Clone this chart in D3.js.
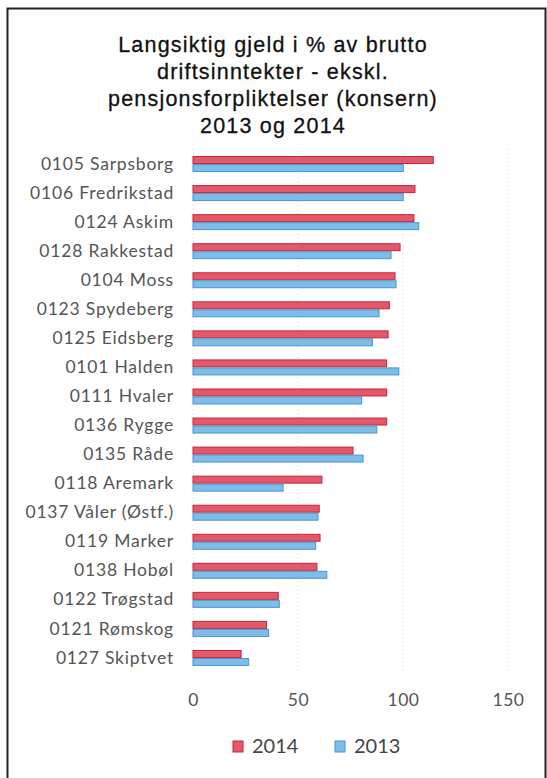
<!DOCTYPE html>
<html>
<head>
<meta charset="utf-8">
<script src="https://cdn.jsdelivr.net/npm/d3@7"></script>
<style>
  body { margin: 0; background: #fff; }
  svg { display: block; }
</style>
</head>
<body>
<div id="chart"></div>
<script>
const kommuner = ["0105 Sarpsborg", "0106 Fredrikstad", "0124 Askim", "0128 Rakkestad", "0104 Moss",
  "0123 Spydeberg", "0125 Eidsberg", "0101 Halden", "0111 Hvaler", "0136 Rygge", "0135 Råde",
  "0118 Aremark", "0137 Våler (Østf.)", "0119 Marker", "0138 Hobøl", "0122 Trøgstad",
  "0121 Rømskog", "0127 Skiptvet"];
const v2014 = [114.4, 105.7, 105.2, 98.6, 96.2, 93.5, 92.9, 92.2, 92.2, 92.2, 76.2, 61.4, 60.1, 60.5, 59.0, 40.6, 35.0, 22.9];
const v2013 = [100.1, 100.1, 107.5, 94.3, 96.7, 88.6, 85.4, 98.0, 80.3, 87.5, 81.0, 42.9, 59.5, 58.4, 63.7, 41.1, 36.0, 26.5];
const series = ["2014", "2013"];
const ticks = [0, 50, 100, 150];
const titleLines = ["Langsiktig gjeld i % av brutto", "driftsinntekter - ekskl.",
  "pensjonsforpliktelser (konsern)", "2013 og 2014"];

let width = 547,
    height = 778;

let svg = d3.select("#chart").append("svg")
  .attr("width", width)
  .attr("height", height);

// frame
svg.append("rect")
  .attr("x", 7.5).attr("y", 8.5)
  .attr("width", 538).attr("height", 800)
  .attr("fill", "none")
  .attr("stroke", "#222")
  .attr("stroke-width", 2);

svg.append("text")
  .attr("text-anchor", "middle")
  .attr("font-family", "Liberation Sans, Arial, sans-serif")
  .attr("font-size", 21.5)
  .attr("letter-spacing", 1.2)
  .attr("fill", "#111")
  .attr("stroke", "#111")
  .attr("stroke-width", 0.3)
  .selectAll("tspan")
  .data(titleLines)
  .enter().append("tspan")
    .attr("x", 273)
    .attr("y", (d, i) => 52 + i * 27)
    .text(d => d);

let x = d3.scaleLinear().domain([0, 150]).range([193, 508]);
let y = d3.scaleBand().domain(kommuner).range([149.5, 672.5]).paddingInner(0.45).paddingOuter(0.225);
let ys = d3.scaleBand().domain(series).range([0, y.bandwidth()]);
let color = d3.scaleOrdinal().domain(series).range(["#e4596a", "#7dbde9"]);
let stroke = d3.scaleOrdinal().domain(series).range(["#c3263b", "#4d94cc"]);

// gridlines
svg.append("g")
  .selectAll("line")
  .data(ticks)
  .enter().append("line")
    .attr("x1", d => x(d)).attr("x2", d => x(d))
    .attr("y1", 149).attr("y2", 673)
    .attr("stroke", "#d8d8d8")
    .attr("stroke-dasharray", "1,3");

let rows = kommuner.map((k, i) => ({ name: k, vals: [v2014[i], v2013[i]] }));

let grp = svg.append("g")
  .selectAll("g")
  .data(rows)
  .enter().append("g")
    .attr("transform", d => `translate(0,${y(d.name)})`);

grp.selectAll("rect")
  .data(d => d.vals.map((v, j) => ({ s: series[j], v: v })))
  .enter().append("rect")
    .attr("x", x(0))
    .attr("y", d => ys(d.s) + 0.5)
    .attr("width", d => x(d.v) - x(0))
    .attr("height", ys.bandwidth() - 1)
    .attr("fill", d => color(d.s))
    .attr("stroke", d => stroke(d.s))
    .attr("stroke-width", 1);

// category labels
svg.append("g")
  .call(d3.axisLeft(y).tickSize(0).tickPadding(0))
  .attr("transform", "translate(174,0)")
  .call(g => g.select(".domain").remove())
  .selectAll("text")
    .attr("font-family", "Lato, Open Sans, sans-serif")
    .attr("font-size", 17.5)
    .attr("letter-spacing", 0.8)
    .attr("fill", "#555");

// value axis
svg.append("g")
  .attr("transform", "translate(0,690)")
  .call(d3.axisBottom(x).tickValues(ticks).tickSize(0).tickPadding(4))
  .call(g => g.select(".domain").remove())
  .selectAll("text")
    .attr("font-family", "Lato, Open Sans, sans-serif")
    .attr("font-size", 17.5)
    .attr("letter-spacing", 0.5)
    .attr("fill", "#555");

// legend
let legend = svg.append("g")
  .selectAll("g")
  .data(series)
  .enter().append("g")
    .attr("transform", (d, i) => `translate(${233 + i * 102},741)`);

legend.append("rect")
  .attr("width", 10).attr("height", 11)
  .attr("fill", d => color(d))
  .attr("stroke", d => stroke(d));

legend.append("text")
  .attr("x", 19).attr("y", 12)
  .attr("font-family", "Lato, Open Sans, sans-serif")
  .attr("font-size", 20)
  .attr("fill", "#444")
  .text(d => d);
</script>
</body>
</html>
